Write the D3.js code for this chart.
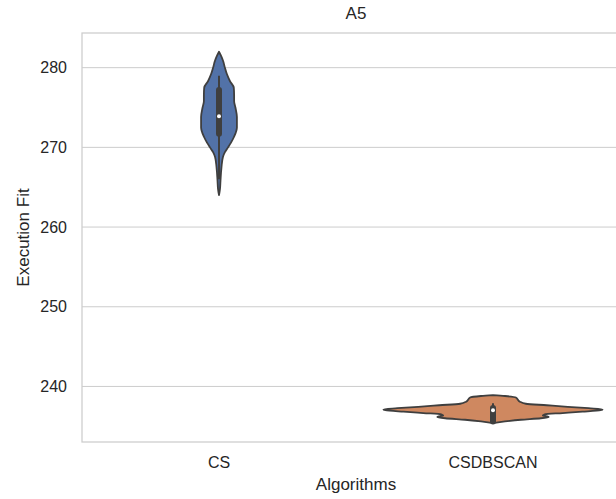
<!DOCTYPE html>
<html>
<head>
<meta charset="utf-8">
<script src="https://cdn.jsdelivr.net/npm/d3@7/dist/d3.min.js"></script>
<style>
  body { margin: 0; background: #fff; }
  svg text { font-family: "Liberation Sans", Arial, sans-serif; fill: #262626; }
</style>
</head>
<body>
<svg id="chart" width="616" height="499"></svg>
<script>
// categories and tick values
const categories = ["CS", "CSDBSCAN"];
const yTicks = [240, 250, 260, 270, 280];

// violin profiles: value levels and estimated kernel density at each level
const csLevels = [282.0, 281.5, 280.9, 280.0, 279.2, 278.3, 277.5, 276.6, 275.8, 275.0, 273.8, 272.5, 271.3, 270.6, 270.0, 269.4, 268.8, 267.5, 265.8, 264.8, 264.0];
const csDensity = [0, 0.012, 0.024, 0.036, 0.048, 0.067, 0.090, 0.092, 0.092, 0.100, 0.109, 0.109, 0.091, 0.073, 0.055, 0.036, 0.024, 0.015, 0.009, 0.006, 0];
const dbLevels = [238.92, 238.80, 238.62, 238.33, 238.08, 237.83, 237.64, 237.45, 237.27, 237.12, 237.02, 236.83, 236.66, 236.51, 236.36, 236.18, 236.01, 235.82, 235.61, 235.41];
const dbDensity = [0, 0.073, 0.139, 0.152, 0.164, 0.200, 0.327, 0.455, 0.582, 0.667, 0.655, 0.545, 0.424, 0.315, 0.303, 0.339, 0.291, 0.170, 0.073, 0];

// inner box stats per category
const whiskerLow = [266.0, 235.5];
const q1 = [271.7, 235.6];
const median = [273.9, 237.0];
const q3 = [277.2, 237.3];
const whiskerHigh = [279.0, 237.9];

const colors = ["#5272a8", "#cf8860"];

const margin = { top: 33, left: 82 };
const width = 548, height = 409; // axes run past the right edge of the picture

const svg = d3.select("#chart");
const g = svg.append("g").attr("transform", `translate(${margin.left},${margin.top})`);

const x = d3.scaleLinear().domain([-0.5, categories.length - 0.5]).range([0, width]);
const y = d3.scaleLinear().domain([233.03, 284.35]).range([height, 0]);

// grid
g.selectAll(".grid")
  .data(yTicks)
  .enter()
  .append("line")
  .attr("x1", 0)
  .attr("x2", width)
  .attr("y1", d => y(d))
  .attr("y2", d => y(d))
  .attr("stroke", "#cccccc")
  .attr("stroke-width", 1);

// y tick labels
g.selectAll(".ytick")
  .data(yTicks)
  .enter()
  .append("text")
  .attr("x", -15)
  .attr("y", d => y(d))
  .attr("dy", "0.35em")
  .attr("text-anchor", "end")
  .style("font-size", "16px")
  .text(d => d);

// x tick labels
g.selectAll(".xtick")
  .data(categories)
  .enter()
  .append("text")
  .attr("x", (d, i) => x(i))
  .attr("y", 435)
  .attr("text-anchor", "middle")
  .style("font-size", "16px")
  .text(d => d);

// violins
const maxDensity = d3.max([...csDensity, ...dbDensity]);
const w = d3.scaleLinear().domain([0, maxDensity]).range([0, x(0.4) - x(0)]);

const profiles = [
  csLevels.map((v, i) => ({ v, d: csDensity[i] })),
  dbLevels.map((v, i) => ({ v, d: dbDensity[i] }))
];

profiles.forEach((prof, i) => {
  const cx = x(i);
  const area = d3.area()
    .y(d => y(d.v))
    .x0(d => cx - w(d.d))
    .x1(d => cx + w(d.d))
    .curve(d3.curveMonotoneY);

  g.append("path")
    .datum(prof)
    .attr("d", area)
    .attr("fill", colors[i])
    .attr("stroke", "#3f3f3f")
    .attr("stroke-width", 1.8)
    .attr("stroke-linejoin", "round");

  // whisker
  g.append("line")
    .attr("x1", cx).attr("x2", cx)
    .attr("y1", y(whiskerLow[i])).attr("y2", y(whiskerHigh[i]))
    .attr("stroke", "#3f3f3f")
    .attr("stroke-width", 2);

  // box
  g.append("line")
    .attr("x1", cx).attr("x2", cx)
    .attr("y1", y(q1[i])).attr("y2", y(q3[i]))
    .attr("stroke", "#3f3f3f")
    .attr("stroke-width", 6)
    .attr("stroke-linecap", "round");

  // median
  g.append("circle")
    .attr("cx", cx)
    .attr("cy", y(median[i]))
    .attr("r", 2)
    .attr("fill", "#ffffff");
});

// spines
g.append("rect")
  .attr("x", 0)
  .attr("y", 0)
  .attr("width", width)
  .attr("height", height)
  .attr("fill", "none")
  .attr("stroke", "#cccccc")
  .attr("stroke-width", 1.25);

// title and axis labels
g.append("text")
  .attr("x", width / 2)
  .attr("y", -14)
  .attr("text-anchor", "middle")
  .style("font-size", "17px")
  .text("A5");

g.append("text")
  .attr("x", x(0.5))
  .attr("y", 457)
  .attr("text-anchor", "middle")
  .style("font-size", "17px")
  .text("Algorithms");

svg.append("text")
  .attr("transform", `translate(29,${margin.top + height / 2}) rotate(-90)`)
  .attr("text-anchor", "middle")
  .style("font-size", "17px")
  .text("Execution Fit");
</script>
</body>
</html>
